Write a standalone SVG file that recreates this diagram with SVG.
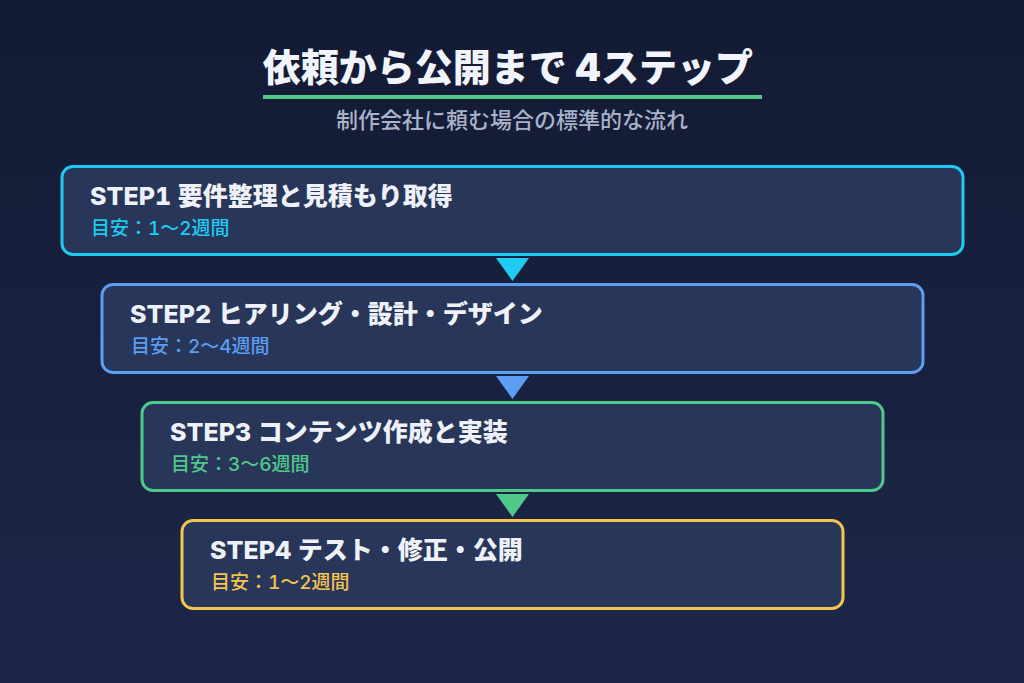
<svg xmlns="http://www.w3.org/2000/svg" width="1024" height="683" viewBox="0 0 1024 683">
  <defs>
    <linearGradient id="bg" x1="0" y1="0" x2="0" y2="1">
      <stop offset="0" stop-color="#131a34"/>
      <stop offset="1" stop-color="#1c2748"/>
    </linearGradient>
    <style>
      .title { font-family: Inter, "Noto Sans CJK JP", sans-serif; font-weight: 900; fill: #f1f4fa; }
      .step { font-family: Inter, "Noto Sans CJK JP", sans-serif; font-weight: 800; font-size: 25px; fill: #eef2f8; font-feature-settings: "tnum"; }
      .dur { font-family: Inter, "Noto Sans CJK JP", sans-serif; font-weight: 500; font-size: 19px; font-feature-settings: "tnum"; }
      .sub { font-family: Inter, "Noto Sans CJK JP", sans-serif; font-weight: 500; font-size: 22px; fill: #a9b3c7; }
      .box { fill: #283659; stroke-width: 3; }
    </style>
  </defs>
  <rect width="1024" height="683" fill="url(#bg)"/>

  <g id="header">
    <text class="title" x="508" y="81" font-size="38" text-anchor="middle">依頼から公開まで 4ステップ</text>
    <rect x="263" y="95" width="499" height="4" fill="#52c98b"/>
    <text class="sub" x="512" y="128" text-anchor="middle">制作会社に頼む場合の標準的な流れ</text>
  </g>

  <g id="connectors">
    <polygon points="496,258 529,258 512.5,281" fill="#1ecbf2"/>
    <polygon points="496,376 529,376 512.5,399" fill="#5b9ef2"/>
    <polygon points="496,494 529,494 512.5,517" fill="#4fc98a"/>
  </g>

  <g id="step1">
    <rect class="box" x="62" y="166.5" width="901" height="88" rx="11" stroke="#1ecbf2"/>
    <text class="step" x="90" y="205">STEP1 要件整理と見積もり取得</text>
    <text class="dur" x="91" y="235" fill="#1ecbf2">目安：1〜2週間</text>
  </g>

  <g id="step2">
    <rect class="box" x="102" y="284.5" width="821" height="88" rx="11" stroke="#5b9ef2"/>
    <text class="step" x="130" y="323">STEP2 ヒアリング・設計・デザイン</text>
    <text class="dur" x="131" y="353" fill="#5b9ef2">目安：2〜4週間</text>
  </g>

  <g id="step3">
    <rect class="box" x="142" y="402.5" width="741" height="88" rx="11" stroke="#4fc98a"/>
    <text class="step" x="170" y="441">STEP3 コンテンツ作成と実装</text>
    <text class="dur" x="171" y="471" fill="#4fc98a">目安：3〜6週間</text>
  </g>

  <g id="step4">
    <rect class="box" x="182" y="520.5" width="661" height="88" rx="11" stroke="#f4c350"/>
    <text class="step" x="210" y="559">STEP4 テスト・修正・公開</text>
    <text class="dur" x="211" y="589" fill="#f4c350">目安：1〜2週間</text>
  </g>
</svg>
